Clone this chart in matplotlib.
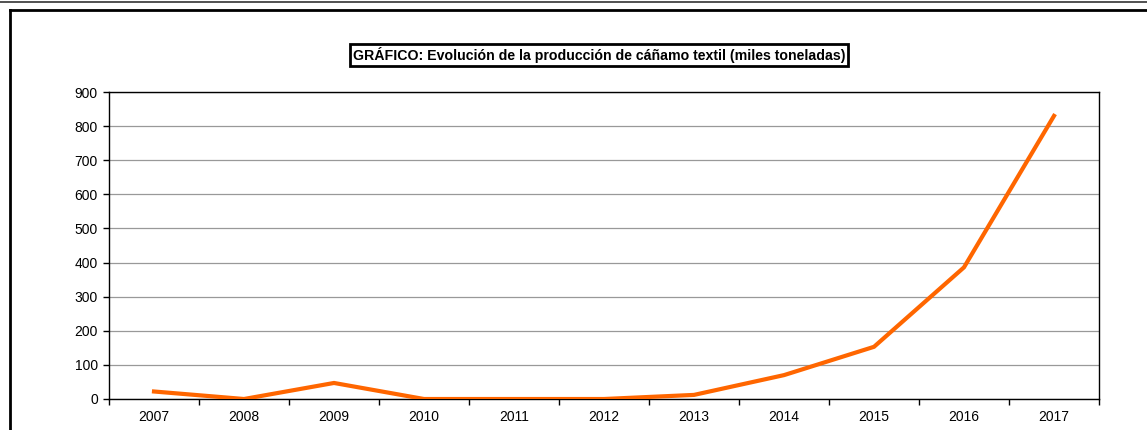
import matplotlib
matplotlib.use("Agg")
import matplotlib.pyplot as plt
from matplotlib.lines import Line2D

years = ["2007", "2008", "2009", "2010", "2011", "2012", "2013", "2014", "2015", "2016", "2017"]
production = [22, 0, 47, 0, 0, 0, 12, 70, 153, 386, 830]
y_ticks = [0, 100, 200, 300, 400, 500, 600, 700, 800, 900]

plt.rcParams["font.family"] = ["Liberation Sans", "DejaVu Sans"]

W, H = 1147, 430
fig = plt.figure(figsize=(W / 100, H / 100), dpi=100)

# outer decorations (page lines / chart frame)
fig.add_artist(Line2D([0, 1], [1 - 1.5 / H, 1 - 1.5 / H], color="#333333", lw=1.2))
fig.add_artist(Line2D([9.5 / W, 1], [1 - 9.5 / H, 1 - 9.5 / H], color="black", lw=2))
fig.add_artist(Line2D([9.5 / W, 9.5 / W], [0, 1 - 9.5 / H], color="black", lw=2))

ax = fig.add_axes([109 / W, 31 / H, 990 / W, 307 / H])
x = list(range(len(years)))
ax.plot(x, production, color="#FF6600", lw=3, solid_joinstyle="miter", zorder=3)

ax.set_xlim(-0.5, len(years) - 0.5)
ax.set_ylim(0, 900)
ax.set_yticks(y_ticks)
ax.set_xticks(x)
ax.set_xticklabels(years)
ax.set_xticks([i - 0.5 for i in range(len(years) + 1)], minor=True)
ax.tick_params(axis="x", which="major", length=0, pad=8, labelsize=10)
ax.tick_params(axis="x", which="minor", length=4, width=1, direction="out")
ax.tick_params(axis="y", length=4, width=1, direction="out", labelsize=10, pad=4)

ax.yaxis.grid(True, color="#999999", lw=0.9)
ax.set_axisbelow(True)
for s in ax.spines.values():
    s.set_linewidth(1)
    s.set_color("black")

fig.text(599 / W, 1 - 55 / H,
         "GRÁFICO: Evolución de la producción de cáñamo textil (miles toneladas)",
         ha="center", va="center", fontsize=10.2, fontweight="bold",
         bbox=dict(boxstyle="square,pad=0.2", fc="white", ec="black", lw=2))

fig.savefig("out.png", dpi=100)
